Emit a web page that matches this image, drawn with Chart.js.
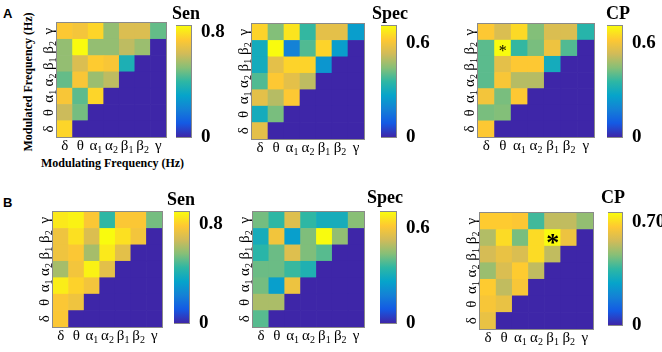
<!DOCTYPE html>
<html>
<head>
<meta charset="utf-8">
<script src="https://cdn.jsdelivr.net/npm/chart.js@4/dist/chart.umd.min.js"></script>
<style>
  body { margin: 0; background: #fff; width: 662px; height: 352px; position: relative; overflow: hidden; font-family: "Liberation Serif", serif; }
  canvas { position: absolute; }
  .txt { position: absolute; white-space: nowrap; color: #000; line-height: 1; }
  .ttl { font-weight: bold; font-size: 18px; }
  .lbl { font-weight: bold; font-size: 12px; }
  .pnl { font-family: "Liberation Sans", Arial, sans-serif; font-weight: bold; font-size: 13px; }
</style>
</head>
<body>
<div class="txt pnl" style="left:3px;top:7px">A</div>
<div class="txt pnl" style="left:3px;top:196px">B</div>
<div class="txt lbl" style="left:41px;top:157px">Modulating Frequency (Hz)</div>
<div class="txt lbl" style="left:28px;top:82px;transform:translate(-50%,-50%) rotate(-90deg)">Modulated Frequency (Hz)</div>

<script>
const bands = ["δ", "θ", "α₁", "α₂", "β₁", "β₂", "γ"];

// each matrix: rows from δ (bottom) up to γ (top); row i holds columns δ..band i
const senA = [
    [0.77],
    [0.63, 0.51],
    [0.73, 0.48, 0.77],
    [0.49, 0.73, 0.56, 0.61],
    [0.55, 0.66, 0.75, 0.73, 0.38],
    [0.55, 0.85, 0.55, 0.55, 0.61, 0.56],
    [0.74, 0.72, 0.77, 0.55, 0.66, 0.66, 0.49],
];
const specA = [
    [0.57],
    [0.30, 0.43],
    [0.57, 0.50, 0.62],
    [0.39, 0.62, 0.57, 0.51],
    [0.30, 0.57, 0.64, 0.64, 0.23],
    [0.30, 0.71, 0.18, 0.39, 0.64, 0.25],
    [0.64, 0.44, 0.67, 0.36, 0.57, 0.57, 0.25],
];
const cpA = [
    [0.62],
    [0.43, 0.44],
    [0.60, 0.43, 0.62],
    [0.40, 0.61, 0.50, 0.50],
    [0.40, 0.57, 0.62, 0.62, 0.30],
    [0.40, 0.71, 0.36, 0.43, 0.59, 0.39],
    [0.62, 0.55, 0.65, 0.44, 0.55, 0.55, 0.34],
];
const senB = [
    [0.78],
    [0.78, 0.75],
    [0.87, 0.81, 0.76],
    [0.61, 0.76, 0.88, 0.72],
    [0.75, 0.78, 0.61, 0.86, 0.72],
    [0.75, 0.84, 0.70, 0.90, 0.84, 0.76],
    [0.86, 0.88, 0.78, 0.45, 0.78, 0.78, 0.54],
];
const specB = [
    [0.39],
    [0.48, 0.48],
    [0.42, 0.25, 0.58],
    [0.41, 0.41, 0.36, 0.32],
    [0.34, 0.41, 0.55, 0.43, 0.39],
    [0.30, 0.59, 0.25, 0.43, 0.70, 0.45],
    [0.42, 0.35, 0.55, 0.35, 0.30, 0.30, 0.44],
];
const cpB = [
    [0.62],
    [0.65, 0.62],
    [0.67, 0.55, 0.65],
    [0.50, 0.59, 0.67, 0.55],
    [0.58, 0.62, 0.59, 0.70, 0.55],
    [0.53, 0.70, 0.46, 0.70, 0.76, 0.63],
    [0.67, 0.67, 0.66, 0.40, 0.55, 0.55, 0.49],
];

const titles = ["Sen", "Spec", "CP", "Sen", "Spec", "CP"];
const colorMax = [0.85, 0.71, 0.71, 0.90, 0.70, 0.76];
const colorTicks = [[0, 0.8], [0, 0.6], [0, 0.6], [0, 0.8], [0, 0.6], [0, 0.7]];
const colorTickText = [["0", "0.8"], ["0", "0.6"], ["0", "0.6"], ["0", "0.8"], ["0", "0.6"], ["0", "0.70"]];
// significant cells marked with an asterisk: [column, row]
const starsCpA = [["θ", "β₂"]];
const starsCpB = [["β₁", "β₂"]];

const parulaStops = [
    [0, [62, 38, 168]], [0.125, [20, 90, 228]], [0.25, [20, 129, 214]],
    [0.375, [6, 164, 202]], [0.5, [46, 183, 164]], [0.625, [135, 191, 119]],
    [0.75, [209, 187, 89]], [0.875, [254, 200, 50]], [1, [249, 251, 14]],
];

function parula(t) {
    t = Math.max(0, Math.min(1, t));
    for (let i = 1; i < parulaStops.length; i++) {
        const [t1, c1] = parulaStops[i];
        const [t0, c0] = parulaStops[i - 1];
        if (t <= t1) {
            const f = (t - t0) / (t1 - t0);
            const c = c0.map((v, k) => Math.round(v + (c1[k] - v) * f));
            return `rgb(${c[0]},${c[1]},${c[2]})`;
        }
    }
    return "rgb(249,251,14)";
}

// layout: heatmap area and colorbar area per panel
const layout = [
    { heat: [57, 23, 109, 114], bar: [176, 26, 15, 111] },
    { heat: [252, 24, 112, 115], bar: [381, 26, 15, 111] },
    { heat: [478, 24, 116, 113], bar: [607, 26, 15, 111] },
    { heat: [53, 212, 109, 115], bar: [174, 212, 15, 111] },
    { heat: [253, 212, 111, 115], bar: [380, 212, 16, 111] },
    { heat: [480, 213, 113, 116], bar: [608, 213, 14, 112] },
];
const titlePos = [[172, 4], [372, 4], [606, 4], [167, 190], [367, 188], [601, 188]];
const Y_AXIS_W = 18, X_AXIS_H = 24;
const BASE_FONT = "15px 'Liberation Serif'";
const SUB_FONT = "10px 'Liberation Serif'";

const framePlugin = {
    id: "frame",
    afterDraw(chart) {
        const a = chart.chartArea, c = chart.ctx;
        c.save();
        c.strokeStyle = "#8a8a8a";
        c.lineWidth = 1;
        c.strokeRect(Math.round(a.left) - 0.5, Math.round(a.top) - 0.5, Math.round(a.width) + 1, Math.round(a.height) + 1);
        c.restore();
    },
};

const starPlugin = {
    id: "stars",
    afterDatasetsDraw(chart, args, opts) {
        if (!opts.cells || !opts.cells.length) return;
        const c = chart.ctx;
        c.save();
        c.fillStyle = "#000";
        c.textAlign = "center";
        c.textBaseline = "middle";
        c.font = opts.font;
        opts.cells.forEach(([col, row]) => {
            const x = chart.scales.x.getPixelForValue(bands.indexOf(col));
            const y = chart.scales.y.getPixelForValue(bands.indexOf(row) + 0.5);
            c.fillText("*", x, y + opts.dy);
        });
        c.restore();
    },
};

// band name with a real subscript digit (α₁ -> α + small 1)
function drawBand(c, name, cx, baseline) {
    const base = name[0];
    const sub = name.slice(1).replace("₁", "1").replace("₂", "2");
    c.font = BASE_FONT;
    const wb = c.measureText(base).width;
    c.font = SUB_FONT;
    const ws = sub ? c.measureText(sub).width : 0;
    const x = cx - (wb + ws) / 2;
    c.font = BASE_FONT;
    c.fillText(base, x, baseline);
    if (sub) {
        c.font = SUB_FONT;
        c.fillText(sub, x + wb, baseline + 3);
    }
}

const bandLabelPlugin = {
    id: "bandLabels",
    afterDraw(chart) {
        const { x, y } = chart.scales;
        const a = chart.chartArea, c = chart.ctx;
        c.save();
        c.fillStyle = "#000";
        c.textAlign = "left";
        c.textBaseline = "alphabetic";
        x.ticks.forEach((t, i) => drawBand(c, bands[t.value], x.getPixelForTick(i), a.bottom + 13));
        y.ticks.forEach((t, i) => {
            c.save();
            c.translate(a.left - 4, y.getPixelForTick(i));
            c.rotate(-Math.PI / 2);
            drawBand(c, bands[Math.floor(t.value)], 0, 0);
            c.restore();
        });
        c.restore();
    },
};

function noPad(s) {
    s.paddingTop = 0;
    s.paddingBottom = 0;
    s.paddingLeft = 0;
    s.paddingRight = 0;
}

function makeCanvas(left, top, w, h) {
    const cv = document.createElement("canvas");
    cv.width = w;
    cv.height = h;
    cv.style.left = left + "px";
    cv.style.top = top + "px";
    cv.style.width = w + "px";
    cv.style.height = h + "px";
    document.body.appendChild(cv);
    return cv;
}

function drawHeat(idx, rows, max, stars, starFont, starDy) {
    const [hx, hy, hw, hh] = layout[idx].heat;
    const cv = makeCanvas(hx - Y_AXIS_W, hy - 1, hw + Y_AXIS_W + 1, hh + X_AXIS_H + 1);
    const datasets = bands.map((_, r) => ({
        data: bands.map(() => [r, r + 1]),
        backgroundColor: bands.map((_, c) => parula((c <= r ? rows[r][c] : 0) / max)),
        borderWidth: 0,
        categoryPercentage: 1,
        barPercentage: 1,
        grouped: false,
    }));
    return new Chart(cv, {
        type: "bar",
        data: { labels: bands, datasets },
        options: {
            responsive: false,
            animation: false,
            devicePixelRatio: 1,
            layout: { padding: { top: 1, right: 1, left: 0, bottom: 0 } },
            plugins: {
                legend: { display: false },
                tooltip: { enabled: false },
                stars: { cells: stars || [], font: starFont, dy: starDy },
            },
            scales: {
                x: {
                    grid: { display: false },
                    border: { display: false },
                    ticks: { display: false, autoSkip: false },
                    afterFit: (s) => { s.height = X_AXIS_H; noPad(s); },
                },
                y: {
                    type: "linear",
                    min: 0,
                    max: 7,
                    grid: { display: false },
                    border: { display: false },
                    afterBuildTicks: (s) => { s.ticks = bands.map((_, i) => ({ value: i + 0.5 })); },
                    ticks: { display: false },
                    afterFit: (s) => { s.width = Y_AXIS_W; noPad(s); },
                },
            },
        },
        plugins: [framePlugin, starPlugin, bandLabelPlugin],
    });
}

function drawColorbar(idx) {
    const [bx, by, bw, bh] = layout[idx].bar;
    const max = colorMax[idx];
    const pad = 12;
    const cv = makeCanvas(bx, by - pad, bw + 48, bh + pad * 2);
    return new Chart(cv, {
        type: "bar",
        data: {
            labels: [""],
            datasets: [{
                data: [[0, max]],
                borderWidth: 0,
                categoryPercentage: 1,
                barPercentage: 1,
                backgroundColor: (ctx) => {
                    const a = ctx.chart.chartArea;
                    if (!a) return parula(0.5);
                    const g = ctx.chart.ctx.createLinearGradient(0, a.bottom, 0, a.top);
                    parulaStops.forEach(([t]) => g.addColorStop(t, parula(t)));
                    return g;
                },
            }],
        },
        options: {
            responsive: false,
            animation: false,
            devicePixelRatio: 1,
            layout: { padding: { top: pad, bottom: pad, left: 0, right: 0 } },
            plugins: { legend: { display: false }, tooltip: { enabled: false } },
            scales: {
                x: { display: false },
                y: {
                    position: "right",
                    min: 0,
                    max: max,
                    grid: { display: false },
                    border: { display: false },
                    afterBuildTicks: (s) => { s.ticks = colorTicks[idx].map((v) => ({ value: v })); },
                    ticks: {
                        color: "#000",
                        padding: 2,
                        font: { family: "Liberation Serif", size: 19, weight: "bold" },
                        callback: (v, i) => colorTickText[idx][i],
                    },
                    afterFit: (s) => { s.width = 48; noPad(s); },
                },
            },
        },
        plugins: [framePlugin],
    });
}

const matrices = [senA, specA, cpA, senB, specB, cpB];
matrices.forEach((m, i) => {
    let stars = null, font = "", dy = 0;
    if (i === 2) { stars = starsCpA; font = "16px 'Liberation Serif'"; dy = 4; }
    if (i === 5) { stars = starsCpB; font = "bold 26px 'Liberation Serif'"; dy = 6; }
    drawHeat(i, m, colorMax[i], stars, font, dy);
    drawColorbar(i);
    const t = document.createElement("div");
    t.className = "txt ttl";
    t.style.left = titlePos[i][0] + "px";
    t.style.top = titlePos[i][1] + "px";
    t.textContent = titles[i];
    document.body.appendChild(t);
});
</script>
</body>
</html>
